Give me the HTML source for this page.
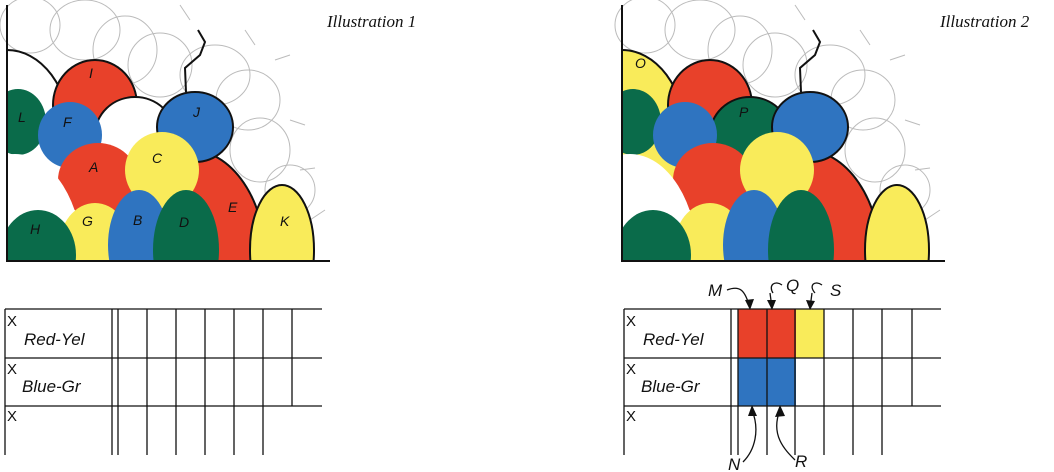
<!DOCTYPE html>
<html><head><meta charset="utf-8"><style>
html,body{margin:0;padding:0;background:#fff;width:1054px;height:472px;overflow:hidden}
svg{display:block}
.hw{font-family:"Liberation Sans",sans-serif;font-style:italic;font-size:14px;fill:#111}
.tl{font-family:"Liberation Serif",serif;font-style:italic;font-size:17px;fill:#111}
.x{font-family:"Liberation Sans",sans-serif;font-size:15px;fill:#111}
</style></head><body>
<svg width="1054" height="472" viewBox="0 0 1054 472" xmlns="http://www.w3.org/2000/svg">
<defs>
<clipPath id="c"><rect x="7" y="0" width="330" height="260"/></clipPath>
<g id="bg" fill="none" stroke="#bbb" stroke-width="1">
<ellipse cx="30" cy="25" rx="30" ry="28"/><ellipse cx="85" cy="30" rx="35" ry="30"/>
<ellipse cx="125" cy="50" rx="32" ry="34"/><ellipse cx="160" cy="65" rx="32" ry="32"/>
<ellipse cx="215" cy="75" rx="35" ry="30"/><ellipse cx="248" cy="100" rx="32" ry="30"/>
<ellipse cx="260" cy="150" rx="30" ry="32"/><ellipse cx="290" cy="190" rx="25" ry="25"/>
<path d="M180 5 L190 20 M245 30 L255 45 M275 60 L290 55 M290 120 L305 125 M300 170 L315 168 M310 220 L325 210"/>
</g>
</defs>
<!-- Illustration 1 -->
<g>
<use href="#bg"/>
<g clip-path="url(#c)">
<g stroke="#111" stroke-width="2">
<ellipse cx="190" cy="262" rx="76" ry="112" fill="#e8412a"/>
<ellipse cx="282" cy="250" rx="32" ry="65" fill="#f9eb5a"/>
<ellipse cx="7" cy="135" rx="63" ry="85" fill="#fff"/>
<ellipse cx="95" cy="105" rx="42" ry="45" fill="#e8412a"/>
<ellipse cx="135" cy="135" rx="40" ry="38" fill="#fff"/>
<ellipse cx="195" cy="127" rx="38" ry="35" fill="#2f74c0"/>
</g>
<ellipse cx="18" cy="122" rx="28" ry="33" fill="#0a6b4a"/>
<ellipse cx="70" cy="135" rx="32" ry="33" fill="#2f74c0"/>
<ellipse cx="98" cy="180" rx="40" ry="37" fill="#e8412a"/>
<ellipse cx="162" cy="170" rx="37" ry="38" fill="#f9eb5a"/>
<ellipse cx="15" cy="262" rx="68" ry="108" fill="#fff"/>
<ellipse cx="95" cy="248" rx="36" ry="45" fill="#f9eb5a"/>
<ellipse cx="38" cy="255" rx="38" ry="45" fill="#0a6b4a"/>
<ellipse cx="139" cy="245" rx="31" ry="55" fill="#2f74c0"/>
<ellipse cx="186" cy="250" rx="33" ry="60" fill="#0a6b4a"/>
</g>
<path d="M198 30 L205 42 L200 55 L185 68 L186 92" fill="none" stroke="#111" stroke-width="2"/>
<path d="M7 5 V261 H330" fill="none" stroke="#111" stroke-width="2"/>
<g class="hw"><text x="89" y="78">I</text><text x="18" y="122">L</text><text x="63" y="127">F</text><text x="193" y="117">J</text><text x="89" y="172">A</text><text x="152" y="163">C</text><text x="228" y="212">E</text><text x="280" y="226">K</text><text x="30" y="234">H</text><text x="82" y="226">G</text><text x="133" y="225">B</text><text x="179" y="227">D</text></g>
<text class="tl" x="327" y="27">Illustration 1</text>
</g>
<!-- Illustration 2 -->
<g transform="translate(615,0)">
<use href="#bg"/>
<g clip-path="url(#c)">
<g stroke="#111" stroke-width="2">
<ellipse cx="190" cy="262" rx="76" ry="112" fill="#e8412a"/>
<ellipse cx="282" cy="250" rx="32" ry="65" fill="#f9eb5a"/>
<ellipse cx="7" cy="135" rx="63" ry="85" fill="#f9eb5a"/>
<ellipse cx="95" cy="105" rx="42" ry="45" fill="#e8412a"/>
<ellipse cx="135" cy="135" rx="40" ry="38" fill="#0a6b4a"/>
<ellipse cx="195" cy="127" rx="38" ry="35" fill="#2f74c0"/>
</g>
<ellipse cx="18" cy="122" rx="28" ry="33" fill="#0a6b4a"/>
<ellipse cx="70" cy="135" rx="32" ry="33" fill="#2f74c0"/>
<ellipse cx="98" cy="180" rx="40" ry="37" fill="#e8412a"/>
<ellipse cx="162" cy="170" rx="37" ry="38" fill="#f9eb5a"/>
<ellipse cx="15" cy="262" rx="68" ry="108" fill="#fff"/>
<ellipse cx="95" cy="248" rx="36" ry="45" fill="#f9eb5a"/>
<ellipse cx="38" cy="255" rx="38" ry="45" fill="#0a6b4a"/>
<ellipse cx="139" cy="245" rx="31" ry="55" fill="#2f74c0"/>
<ellipse cx="186" cy="250" rx="33" ry="60" fill="#0a6b4a"/>
</g>
<path d="M198 30 L205 42 L200 55 L185 68 L186 92" fill="none" stroke="#111" stroke-width="2"/>
<path d="M7 5 V261 H330" fill="none" stroke="#111" stroke-width="2"/>
<g class="hw"><text x="20" y="68">O</text><text x="124" y="117">P</text></g>
<text class="tl" x="325" y="27">Illustration 2</text>
</g>
<!-- Table 1 -->
<g stroke="#111" stroke-width="1.3" fill="none">
<path d="M5 309 H322 M5 358 H322 M5 406 H322 M5 309 V455"/>
<path d="M112 309 V455 M118 309 V455 M147 309 V455 M176 309 V455 M205 309 V455 M234 309 V455 M263 309 V455 M292 309 V406"/>
</g>
<!-- Table 2 -->
<rect x="738" y="309" width="58" height="49" fill="#e8412a"/>
<rect x="796" y="309" width="28" height="49" fill="#f9eb5a"/>
<rect x="738" y="358" width="58" height="48" fill="#2f74c0"/>
<g stroke="#111" stroke-width="1.3" fill="none">
<path d="M624 309 H941 M624 358 H941 M624 406 H941 M624 309 V455"/>
<path d="M731 309 V455 M738 309 V455 M767 309 V455 M795 309 V455 M824 309 V455 M853 309 V455 M882 309 V455 M912 309 V406"/>
<path d="M727 290 C740 285 745 290 750 308 M773 293 C768 285 775 280 782 285 M770 293 L772 308 M815 293 C808 285 815 280 822 285 M812 293 L810 308 M752 410 C760 430 755 450 743 462 M780 410 C770 435 785 450 795 460"/>
</g>
<g fill="#111">
<path d="M745 300 L750 310 L754 299 Z"/><path d="M767 300 L772 310 L776 300 Z"/>
<path d="M806 300 L810 310 L815 301 Z"/><path d="M748 416 L752 405 L757 416 Z"/>
<path d="M775 417 L780 405 L785 416 Z"/>
</g>
<g class="x"><text x="7" y="326">X</text><text x="7" y="374">X</text><text x="7" y="421">X</text>
<text x="626" y="326">X</text><text x="626" y="374">X</text><text x="626" y="421">X</text></g>
<g class="hw" style="font-size:17px"><text x="24" y="345">Red-Yel</text><text x="22" y="392">Blue-Gr</text>
<text x="643" y="345">Red-Yel</text><text x="641" y="392">Blue-Gr</text>
<text x="708" y="296">M</text><text x="786" y="291">Q</text><text x="830" y="296">S</text>
<text x="728" y="470">N</text><text x="795" y="467">R</text></g>
</svg>
</body></html>
